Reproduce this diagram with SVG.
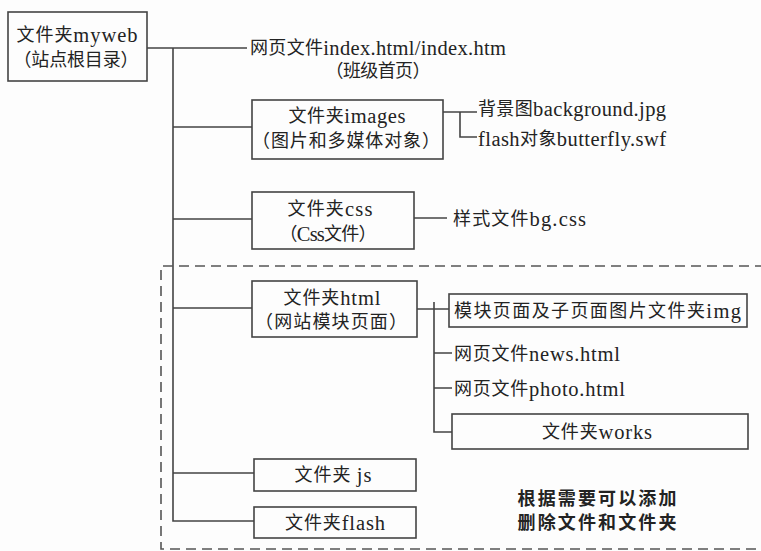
<svg xmlns="http://www.w3.org/2000/svg" width="761" height="551" viewBox="0 0 761 551">
<style>
text{font-family:"Liberation Serif","Noto Sans CJK SC",serif;font-size:18px;fill:#232323;dominant-baseline:central}
.l{font-size:20.5px}
.m{text-anchor:middle}
.b{font-weight:bold}
.box{fill:none;stroke:#444;stroke-width:1.6}
.ln{fill:none;stroke:#444;stroke-width:1.6}
.dash{fill:none;stroke:#555;stroke-width:1.6;stroke-dasharray:10 6}
</style>
<rect width="761" height="551" fill="#fdfdfd"/>
<g id="connectors">
<path class="ln" d="M147,48 H247 M173,48 V521 H254 M173,127 H252 M173,219 H252 M173,308 H252 M173,473 H254"/>
<path class="ln" d="M443,112 H477 M460,112 V137 H477"/>
<path class="ln" d="M414,218 H447"/>
<path class="ln" d="M417,309 H449 M434,302 V432 H452 M434,353 H452 M434,388 H452"/>
<path class="dash" d="M765,266 H161 V549 H765"/>
</g>
<g id="root">
<rect class="box" x="8" y="12" width="139" height="69"/>
<text class="m" x="77" y="35" textLength="121">文件夹<tspan class="l">myweb</tspan></text>
<text class="m" x="76" y="60" textLength="125">（站点根目录）</text>
</g>
<g id="index">
<text x="250" y="48" textLength="256">网页文件<tspan class="l">index.html/index.htm</tspan></text>
<text class="m" x="378" y="71" textLength="105">（班级首页）</text>
</g>
<g id="images">
<rect class="box" x="252" y="100" width="191" height="59"/>
<text class="m" x="347" y="116" textLength="117">文件夹<tspan class="l">images</tspan></text>
<text class="m" x="346" y="141" textLength="188">（图片和多媒体对象）</text>
</g>
<g id="bg">
<text x="478" y="109" textLength="188">背景图<tspan class="l">background.jpg</tspan></text>
</g>
<g id="butterfly">
<text x="478" y="139" textLength="188"><tspan class="l">flash</tspan>对象<tspan class="l">butterfly.swf</tspan></text>
</g>
<g id="css">
<rect class="box" x="252" y="192" width="162" height="57"/>
<text class="m" x="330" y="209" textLength="85">文件夹<tspan class="l">css</tspan></text>
<text class="m" x="328" y="234" textLength="97">（<tspan class="l">Css</tspan>文件）</text>
</g>
<g id="bgcss">
<text x="453" y="219" textLength="133">样式文件<tspan class="l">bg.css</tspan></text>
</g>
<g id="html">
<rect class="box" x="252" y="281" width="165" height="56"/>
<text class="m" x="332" y="298" textLength="97">文件夹<tspan class="l">html</tspan></text>
<text class="m" x="331" y="322" textLength="152">（网站模块页面）</text>
</g>
<g id="img">
<rect class="box" x="449" y="294" width="298" height="33"/>
<text x="454" y="311" textLength="287">模块页面及子页面图片文件夹<tspan class="l">img</tspan></text>
</g>
<g id="news">
<text x="454" y="354" textLength="166">网页文件<tspan class="l">news.html</tspan></text>
</g>
<g id="photo">
<text x="454" y="389" textLength="171">网页文件<tspan class="l">photo.html</tspan></text>
</g>
<g id="works">
<rect class="box" x="452" y="414" width="296" height="35"/>
<text class="m" x="597" y="432" textLength="110">文件夹<tspan class="l">works</tspan></text>
</g>
<g id="js">
<rect class="box" x="254" y="459" width="162" height="32"/>
<text class="m" x="333" y="475" textLength="77">文件夹 <tspan class="l">js</tspan></text>
</g>
<g id="flash">
<rect class="box" x="254" y="507" width="162" height="31"/>
<text class="m" x="335" y="523" textLength="100">文件夹<tspan class="l">flash</tspan></text>
</g>
<g id="note">
<text class="m b" x="597" y="499" textLength="159">根据需要可以添加</text>
<text class="m b" x="597" y="523" textLength="159">删除文件和文件夹</text>
</g>
</svg>
